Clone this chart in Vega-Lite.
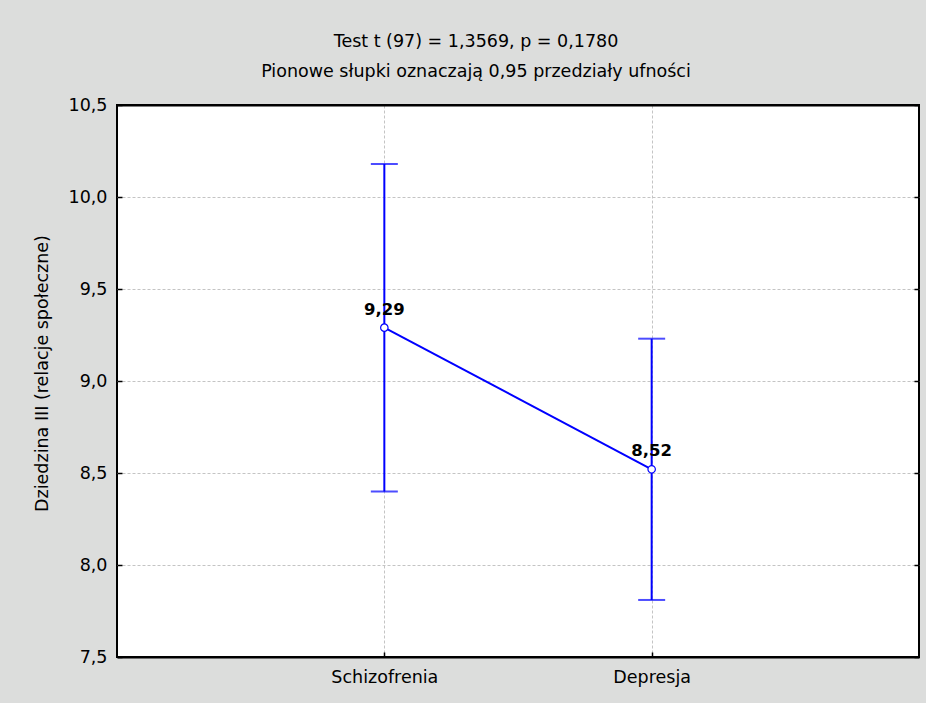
{
  "$schema": "https://vega.github.io/schema/vega-lite/v6.json",
  "width": 802,
  "height": 552,
  "autosize": {"type": "none"},
  "padding": {"left": 117, "top": 105, "right": 7, "bottom": 46},
  "background": "#dcdddc",
  "config": {
    "locale": {"number": {"decimal": ",", "thousands": " ", "grouping": [3], "currency": ["", " zł"]}},
    "font": "DejaVu Sans",
    "view": {"fill": "white", "stroke": "black", "strokeWidth": 2},
    "axis": {
      "labelColor": "black",
      "labelFontSize": 17.5,
      "titleColor": "black",
      "titleFontSize": 17.5,
      "titleFontWeight": "normal",
      "gridColor": "#c4c4c4",
      "gridDash": [3, 2],
      "gridWidth": 1,
      "domain": false,
      "tickColor": "black",
      "tickWidth": 1.5
    }
  },
  "title": {
    "text": ["Test t (97) = 1,3569, p = 0,1780", "Pionowe słupki oznaczają 0,95 przedziały ufności"],
    "fontSize": 17.5,
    "fontWeight": "normal",
    "color": "black",
    "lineHeight": 30,
    "baseline": "bottom",
    "dx": -42,
    "offset": -2
  },
  "data": {
    "values": [
      {"group": "Schizofrenia", "mean": 9.29, "lo": 8.40, "hi": 10.18},
      {"group": "Depresja", "mean": 8.52, "lo": 7.81, "hi": 9.23}
    ]
  },
  "encoding": {
    "x": {
      "field": "group",
      "type": "nominal",
      "sort": null,
      "scale": {"type": "point", "padding": 1},
      "axis": {"title": null, "labelAngle": 0, "grid": true, "ticks": true, "tickSize": -5, "labelPadding": 16}
    }
  },
  "resolve": {"axis": {"y": "independent"}},
  "layer": [
    {
      "mark": {"type": "rule", "color": "#0000ff", "strokeWidth": 2},
      "encoding": {
        "y": {
          "field": "lo",
          "type": "quantitative",
          "title": "Dziedzina III (relacje społeczne)",
          "scale": {"domain": [7.5, 10.5], "nice": false, "zero": false},
          "axis": {
            "orient": "left",
            "values": [7.5, 8, 8.5, 9, 9.5, 10, 10.5],
            "format": ".1f",
            "grid": true,
            "gridColor": {"condition": {"test": "datum.value == 10.5 || datum.value == 7.5", "value": "black"}, "value": "#c4c4c4"},
            "gridDash": {"condition": {"test": "datum.value == 10.5 || datum.value == 7.5", "value": []}, "value": [3, 2]},
            "gridWidth": {"condition": {"test": "datum.value == 10.5 || datum.value == 7.5", "value": 2}, "value": 1},
            "ticks": true,
            "tickSize": -5,
            "labelPadding": 15,
            "titleAngle": -90,
            "titleX": -70,
            "titleY": 268,
            "titleAlign": "center",
            "titleBaseline": "alphabetic"
          }
        },
        "y2": {"field": "hi"}
      }
    },
    {
      "mark": {"type": "tick", "color": "#0000ff", "thickness": 2, "size": 27},
      "encoding": {
        "y": {
          "field": "lo",
          "type": "quantitative",
          "axis": {"orient": "right", "values": [7.5, 8, 8.5, 9, 9.5, 10, 10.5], "labels": false, "title": null, "grid": false, "ticks": true, "tickSize": -5}
        }
      }
    },
    {
      "mark": {"type": "tick", "color": "#0000ff", "thickness": 2, "size": 27},
      "encoding": {"y": {"field": "hi", "type": "quantitative", "axis": null}}
    },
    {
      "mark": {"type": "line", "color": "#0000ff", "strokeWidth": 2},
      "encoding": {"y": {"field": "mean", "type": "quantitative", "axis": null}}
    },
    {
      "mark": {"type": "point", "shape": "circle", "filled": true, "fill": "white", "stroke": "#0000ff", "strokeWidth": 1.2, "size": 55, "opacity": 1},
      "encoding": {"y": {"field": "mean", "type": "quantitative", "axis": null}}
    },
    {
      "mark": {"type": "text", "dy": -13, "baseline": "alphabetic", "fontSize": 16.5, "fontWeight": "bold", "color": "black"},
      "encoding": {
        "y": {"field": "mean", "type": "quantitative", "axis": null},
        "text": {"field": "mean", "type": "quantitative", "format": ".2f"}
      }
    }
  ]
}
